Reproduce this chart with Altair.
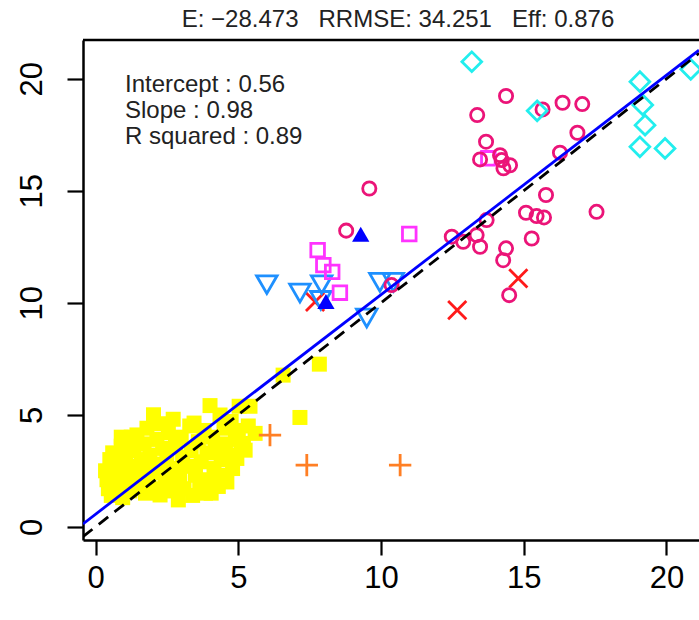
import altair as alt
import pandas as pd

# ---------------- data ----------------
X_MIN, X_MAX = -0.44, 21.14
Y_MIN, Y_MAX = -0.59, 21.73
TICKS = [0, 5, 10, 15, 20]

INTERCEPT = 0.56
SLOPE = 0.98

title_text = "E: \u221228.473\u00a0\u00a0\u00a0RRMSE: 34.251\u00a0\u00a0\u00a0Eff: 0.876"
stats_lines = ["Intercept : 0.56", "Slope : 0.98", "R squared : 0.89"]

yellow_x = [0.35, 0.4, 0.45, 0.5, 0.55, 0.6, 0.7, 0.75, 0.8, 0.85, 0.9, 0.95, 1.0, 1.05,
            1.1, 1.15, 1.2, 1.3, 1.35, 1.4, 1.45, 1.5, 1.6, 1.65, 1.7, 1.75, 1.8, 1.85,
            1.9, 2.0, 2.03, 2.1, 2.15, 2.2, 2.26, 2.3, 2.35, 2.45, 2.5, 2.55, 2.6, 2.7,
            2.72, 2.8, 2.9, 2.95, 3.0, 3.05, 3.1, 3.2, 3.3, 3.35, 3.4, 3.45, 3.5, 3.6,
            3.65, 3.7, 3.8, 3.85, 3.9, 4.0, 4.01, 4.05, 4.1, 4.15, 4.2, 4.3, 4.36, 4.4,
            4.45, 4.5, 4.55, 4.6, 4.7, 4.75, 4.8, 4.9, 4.95, 5.03, 5.0, 5.1, 5.18, 5.24,
            5.41, 5.35, 5.59, 6.57, 7.84, 7.16, 0.9, 1.25]
yellow_y = [2.5, 2.1, 1.7, 3.0, 1.4, 3.3, 1.5, 2.3, 1.9, 2.8, 3.6, 1.3, 2.5, 3.1,
            3.8, 2.0, 1.6, 2.7, 3.4, 2.2, 4.1, 1.8, 3.0, 2.5, 3.7, 1.5, 4.4, 2.1,
            3.2, 2.8, 5.0, 1.7, 3.9, 2.4, 1.42, 4.6, 3.5, 2.0, 3.0, 4.2, 1.6, 2.6,
            4.8, 3.6, 1.2, 2.2, 4.0, 3.1, 1.7, 2.7, 4.5, 3.4, 1.4, 4.63, 2.3, 3.8,
            1.9, 2.9, 4.3, 1.5, 3.3, 2.1, 5.41, 1.5, 4.0, 2.6, 3.5, 1.8, 4.99, 3.0,
            2.3, 4.4, 3.7, 2.0, 3.2, 4.7, 2.6, 3.9, 3.05, 5.38, 4.3, 3.5, 3.72, 3.42,
            5.38, 4.5, 4.17, 6.77, 7.26, 4.88, 4.0, 4.0]

plus_x = [6.11, 7.4, 10.67]
plus_y = [4.09, 2.75, 2.75]

cross_x = [7.69, 12.67, 14.81]
cross_y = [10.04, 9.67, 11.09]

tri_up_x = [9.29, 8.07]
tri_up_y = [12.95, 9.95]

tri_down_x = [6.0, 7.16, 7.92, 7.89, 9.96, 10.43, 9.5]
tri_down_y = [10.94, 10.57, 10.94, 10.24, 11.05, 11.05, 9.45]

msq_x = [7.78, 7.98, 8.29, 8.56, 10.99, 13.76]
msq_y = [12.35, 11.68, 11.38, 10.45, 13.07, 16.45]

circ_x = [8.78, 9.59, 10.37, 12.48, 12.88, 13.35, 13.47, 13.7, 14.28, 14.38, 14.49,
          15.08, 15.28, 15.45, 15.71, 15.78, 17.55, 13.47, 13.68, 14.17, 14.23, 14.29,
          14.52, 16.27, 16.88, 13.37, 14.38, 15.66, 16.36, 17.05]
circ_y = [13.22, 15.1, 10.79, 12.95, 12.72, 13.02, 12.5, 13.69, 11.9, 12.43, 10.34,
          14.02, 12.87, 13.87, 13.81, 14.81, 14.06, 16.4, 17.19, 16.59, 16.37, 16.0,
          16.14, 16.7, 17.59, 18.38, 19.23, 18.63, 18.93, 18.87]

dia_x = [13.18, 15.47, 19.07, 19.17, 19.25, 19.07, 19.95, 20.85]
dia_y = [20.76, 18.57, 19.87, 18.83, 17.93, 16.96, 16.89, 20.42]

# ---------------- chart ----------------
FONT = "Liberation Sans"
W, H = 616, 500

xs = alt.Scale(domain=[X_MIN, X_MAX], nice=False, zero=False)
ys = alt.Scale(domain=[Y_MIN, Y_MAX], nice=False, zero=False)

x_axis = alt.Axis(values=TICKS, title=None, grid=False, domain=True, domainColor="black",
                  domainWidth=2.5, tickColor="black", tickWidth=2.2, tickSize=15,
                  labelFontSize=31, labelFont=FONT, labelColor="black", labelPadding=8,
                  labelFlush=False, labelOverlap=False)
y_axis = alt.Axis(values=TICKS, title=None, grid=False, domain=True, domainColor="black",
                  domainWidth=2.5, tickColor="black", tickWidth=2.2, tickSize=16,
                  labelFontSize=31, labelFont=FONT, labelColor="black", labelPadding=19,
                  labelAngle=270, labelAlign="center", labelBaseline="bottom",
                  labelFlush=False, labelOverlap=False)


def points(xv, yv, **mark):
    df = pd.DataFrame({"x": xv, "y": yv})
    return alt.Chart(df).mark_point(opacity=1, **mark).encode(
        x=alt.X("x:Q", scale=xs, axis=x_axis),
        y=alt.Y("y:Q", scale=ys, axis=y_axis),
    )


yellow = points(yellow_x, yellow_y, shape="square", filled=True, color="#FFFF00",
                size=225, strokeWidth=0)
plus = points(plus_x, plus_y, shape="M-1,0L1,0M0,-1L0,1", filled=False, color="#FF7F24",
              size=500, strokeWidth=2.8)
cross = points(cross_x, cross_y, shape="M-1,-1L1,1M-1,1L1,-1", filled=False,
               color="#FF1A1A", size=330, strokeWidth=2.8)
tri_down = points(tri_down_x, tri_down_y, shape="M-1,-0.577L1,-0.577L0,1.155Z",
                  filled=False, color="#1E90FF", size=420, strokeWidth=2.8)
msq = points(msq_x, msq_y, shape="square", filled=False, color="#FF33FF", size=185,
             strokeWidth=2.8)
circ = points(circ_x, circ_y, shape="circle", filled=False, color="#EB1478", size=175,
              strokeWidth=2.8)
dia = points(dia_x, dia_y, shape="diamond", filled=False, color="#22EEEE", size=390,
             strokeWidth=2.8)
tri_up = points(tri_up_x, tri_up_y, shape="M0,-1.155L1,0.577L-1,0.577Z", filled=True,
                color="#0000FF", size=300, strokeWidth=0)

line_x = [X_MIN, X_MAX]
one_to_one = pd.DataFrame({"x": line_x, "y": line_x})
fit = pd.DataFrame({"x": line_x, "y": [INTERCEPT + SLOPE * v for v in line_x]})

dashed = alt.Chart(one_to_one).mark_line(color="black", strokeWidth=2.8,
                                          strokeDash=[12, 8], clip=True).encode(
    x=alt.X("x:Q", scale=xs, axis=x_axis), y=alt.Y("y:Q", scale=ys, axis=y_axis))
fitline = alt.Chart(fit).mark_line(color="#0000FF", strokeWidth=2.8, clip=True).encode(
    x=alt.X("x:Q", scale=xs, axis=x_axis), y=alt.Y("y:Q", scale=ys, axis=y_axis))

top_border = alt.Chart(pd.DataFrame({"a": [0]})).mark_rule(
    color="black", strokeWidth=2.5).encode(x=alt.value(0), x2=alt.value(W), y=alt.value(0))

title = alt.Chart(pd.DataFrame({"t": [title_text]})).mark_text(
    font=FONT, fontSize=24, color="#222222", align="center", baseline="middle").encode(
    text="t:N", x=alt.value(315), y=alt.value(-20))

stats = alt.Chart(pd.DataFrame({"t": stats_lines, "yy": [45, 70.7, 96.7]})).mark_text(
    font=FONT, fontSize=24, color="#222222", align="left", baseline="middle").encode(
    text="t:N", x=alt.value(42), y=alt.Y("yy:Q", scale=None, axis=None))

chart = alt.layer(
    yellow, plus, cross, tri_down, msq, circ, dia, tri_up, dashed, fitline,
    top_border, title, stats,
).properties(
    width=W, height=H,
    autosize=alt.AutoSizeParams(type="none"),
    padding={"left": 83, "top": 40, "right": 0, "bottom": 80},
    background="white",
).configure_view(strokeWidth=0)

chart.save("out.html", embed_options={"renderer": "svg", "actions": False})
